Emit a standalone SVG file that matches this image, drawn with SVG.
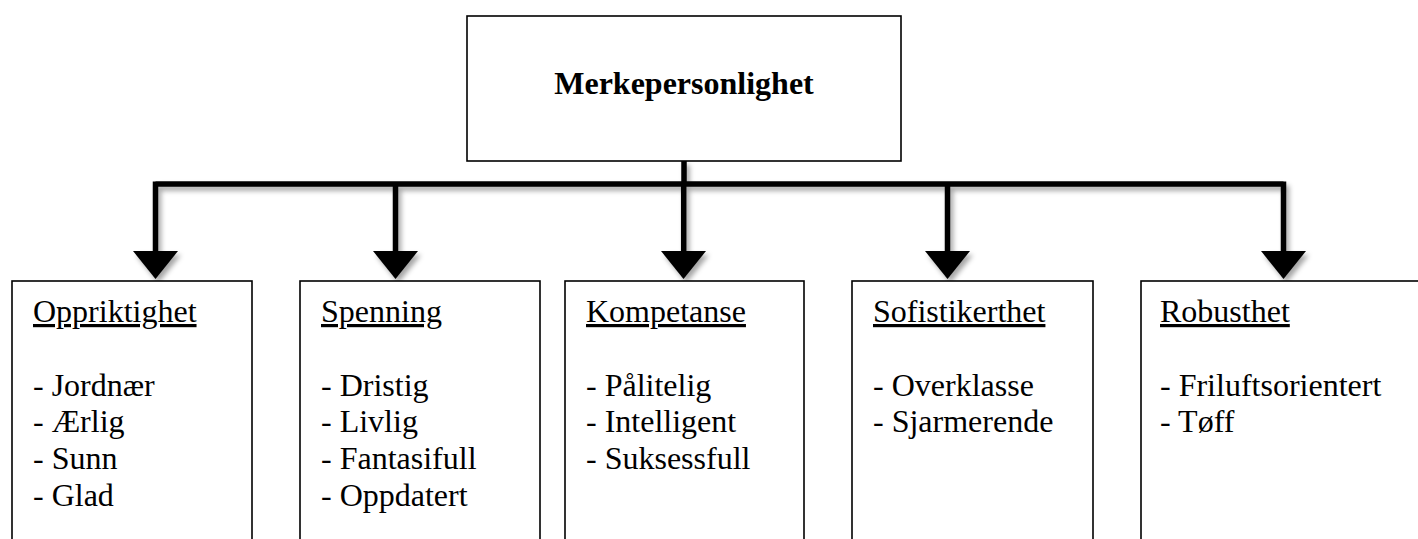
<svg xmlns="http://www.w3.org/2000/svg" width="1418" height="539" viewBox="0 0 1418 539">
<style>
.box{fill:#fff;stroke:#000;stroke-width:1.6}
.t{font-family:'Liberation Serif',Tinos,'DejaVu Serif',serif;font-size:32px;fill:#000}
.h{text-decoration:underline}
.title{font-weight:bold;text-anchor:middle}
.ln{fill:none;stroke:#000;stroke-width:5.5}
.ah{fill:#000}
</style>
<defs>
<filter id="sh" x="-20%" y="-20%" width="140%" height="160%">
<feDropShadow dx="3" dy="4" stdDeviation="2.5" flood-color="#000" flood-opacity="0.35"/>
</filter>
</defs>
<rect width="1418" height="539" fill="#fff"/>
<g id="connectors" filter="url(#sh)">
<path class="ln" d="M684,161 V184 M155.5,184 H1283.5 M155.5,181.5 V252 M395.5,184 V252 M683.7,184 V252 M947.5,184 V252 M1283.5,181.5 V252"/>
<polygon class="ah" points="133,251 178,251 155.5,279"/>
<polygon class="ah" points="373,251 418,251 395.5,279"/>
<polygon class="ah" points="661,251 706,251 683.5,279"/>
<polygon class="ah" points="925,251 970,251 947.5,279"/>
<polygon class="ah" points="1261,251 1306,251 1283.5,279"/>
</g>
<g id="root">
<rect class="box" x="467" y="16" width="434" height="145"/>
<text class="t title" font-family="Liberation Serif, serif" x="684" y="94">Merkepersonlighet</text>
</g>
<g id="oppriktighet">
<rect class="box" x="12" y="281" width="240" height="290"/>
<text class="t" font-family="Liberation Serif, serif"><tspan class="h" x="33" y="322">Oppriktighet</tspan><tspan x="33" y="395.5">- Jordnær</tspan><tspan x="33" y="432.3">- Ærlig</tspan><tspan x="33" y="469.1">- Sunn</tspan><tspan x="33" y="505.9">- Glad</tspan></text>
</g>
<g id="spenning">
<rect class="box" x="300" y="281" width="240" height="290"/>
<text class="t" font-family="Liberation Serif, serif"><tspan class="h" x="321" y="322">Spenning</tspan><tspan x="321" y="395.5">- Dristig</tspan><tspan x="321" y="432.3">- Livlig</tspan><tspan x="321" y="469.1">- Fantasifull</tspan><tspan x="321" y="505.9">- Oppdatert</tspan></text>
</g>
<g id="kompetanse">
<rect class="box" x="565" y="281" width="239" height="290"/>
<text class="t" font-family="Liberation Serif, serif"><tspan class="h" x="586" y="322">Kompetanse</tspan><tspan x="586" y="395.5">- Pålitelig</tspan><tspan x="586" y="432.3">- Intelligent</tspan><tspan x="586" y="469.1">- Suksessfull</tspan></text>
</g>
<g id="sofistikerthet">
<rect class="box" x="852" y="281" width="241" height="290"/>
<text class="t" font-family="Liberation Serif, serif"><tspan class="h" x="873" y="322">Sofistikerthet</tspan><tspan x="873" y="395.5">- Overklasse</tspan><tspan x="873" y="432.3">- Sjarmerende</tspan></text>
</g>
<g id="robusthet">
<rect class="box" x="1141" y="281" width="300" height="290"/>
<text class="t" font-family="Liberation Serif, serif"><tspan class="h" x="1160" y="322">Robusthet</tspan><tspan x="1160" y="395.5">- Friluftsorientert</tspan><tspan x="1160" y="432.3">- Tøff</tspan></text>
</g>
</svg>
